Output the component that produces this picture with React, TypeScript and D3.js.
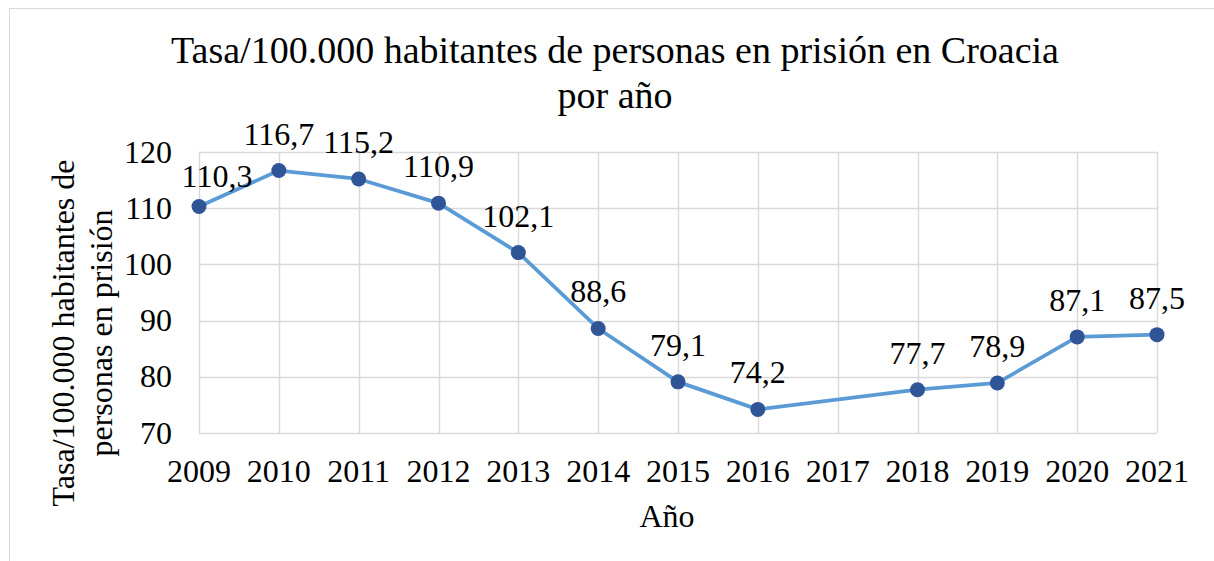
import { useEffect, useRef } from "react";
import * as d3 from "d3";

const years = ["2009", "2010", "2011", "2012", "2013", "2014", "2015", "2016", "2017", "2018", "2019", "2020", "2021"];
const rates: (number | null)[] = [110.3, 116.7, 115.2, 110.9, 102.1, 88.6, 79.1, 74.2, null, 77.7, 78.9, 87.1, 87.5];
const yTicks = [70, 80, 90, 100, 110, 120];
const titleLines = ["Tasa/100.000 habitantes de personas en prisión en Croacia", "por año"];
const yTitleLines = ["Tasa/100.000 habitantes de", "personas en prisión"];
const xTitle = "Año";

export default function App() {
    const ref = useRef<SVGSVGElement>(null);

    const W = 1214, H = 561;
    const margin = { top: 152, right: 57, bottom: 128, left: 199 };
    const innerW = W - margin.left - margin.right;
    const innerH = H - margin.top - margin.bottom;
    const font = "Liberation Serif";

    useEffect(() => {
        const svg = d3.select(ref.current);
        svg.selectAll("*").remove();

        // chart frame
        svg.append("rect")
            .attr("x", 9.5).attr("y", 8.5)
            .attr("width", W + 20).attr("height", H + 20)
            .attr("fill", "#fff").attr("stroke", "#d9d9d9").attr("stroke-width", 1);

        const x = d3.scalePoint<string>().domain(years).range([0, innerW]);
        const y = d3.scaleLinear().domain([70, 120]).range([innerH, 0]);

        const g = svg.append("g").attr("transform", `translate(${margin.left},${margin.top})`);

        // horizontal gridlines
        g.append("g").selectAll("line").data(yTicks).join("line")
            .attr("x1", 0).attr("x2", innerW)
            .attr("y1", d => Math.round(y(d)) + 0.5).attr("y2", d => Math.round(y(d)) + 0.5)
            .attr("stroke", "#d9d9d9").attr("stroke-width", 1.5);

        // vertical gridlines
        g.append("g").selectAll("line").data(years).join("line")
            .attr("x1", d => Math.round(x(d)!) + 0.5).attr("x2", d => Math.round(x(d)!) + 0.5)
            .attr("y1", 0).attr("y2", innerH)
            .attr("stroke", "#d9d9d9").attr("stroke-width", 1.5);

        // y tick labels
        g.append("g").selectAll("text").data(yTicks).join("text")
            .attr("x", -27).attr("y", d => y(d) + 10.5)
            .attr("text-anchor", "end")
            .style("font-family", font).style("font-size", "32px").attr("fill", "#000")
            .text(d => d);

        // x tick labels
        g.append("g").selectAll("text").data(years).join("text")
            .attr("x", d => x(d)!).attr("y", innerH + 49)
            .attr("text-anchor", "middle")
            .style("font-family", font).style("font-size", "32px").attr("fill", "#000")
            .text(d => d);

        const pts = years.map((yr, i) => ({ yr, v: rates[i] })).filter(d => d.v != null) as { yr: string; v: number }[];

        const line = d3.line<{ yr: string; v: number }>().x(d => x(d.yr)!).y(d => y(d.v));

        g.append("path")
            .datum(pts)
            .attr("fill", "none")
            .attr("stroke", "#5b9bd5")
            .attr("stroke-width", 3.75)
            .attr("stroke-linejoin", "round")
            .attr("d", line);

        g.append("g").selectAll("circle").data(pts).join("circle")
            .attr("cx", d => x(d.yr)!).attr("cy", d => y(d.v))
            .attr("r", 7.5)
            .attr("fill", "#2f5597");

        // data labels
        g.append("g").selectAll("text").data(pts).join("text")
            .attr("x", (d, i) => x(d.yr)! + (i === 0 ? 18 : 0))
            .attr("y", (d, i) => y(d.v) - (i === 0 ? 20 : 26))
            .attr("text-anchor", "middle")
            .style("font-family", font).style("font-size", "32px").attr("fill", "#000")
            .text(d => d.v.toFixed(1).replace(".", ","));

        // title
        svg.append("g").selectAll("text").data(titleLines).join("text")
            .attr("x", 615).attr("y", (d, i) => 63 + i * 45)
            .attr("text-anchor", "middle")
            .style("font-family", font).style("font-size", "38px").attr("fill", "#000")
            .text(d => d);

        // y axis title
        svg.append("g").attr("transform", "translate(0,333) rotate(-90)")
            .selectAll("text").data(yTitleLines).join("text")
            .attr("x", 0).attr("y", (d, i) => 74 + i * 38)
            .attr("text-anchor", "middle")
            .style("font-family", font).style("font-size", "32px").attr("fill", "#000")
            .text(d => d);

        // x axis title
        svg.append("text")
            .attr("x", 667).attr("y", 527)
            .attr("text-anchor", "middle")
            .style("font-family", font).style("font-size", "32px").attr("fill", "#000")
            .text(xTitle);
    }, []);

    return (
        <div style={{ position: "absolute", left: 0, top: 0 }}>
            <svg ref={ref} width={W} height={H} style={{ display: "block" }} />
        </div>
    );
}
